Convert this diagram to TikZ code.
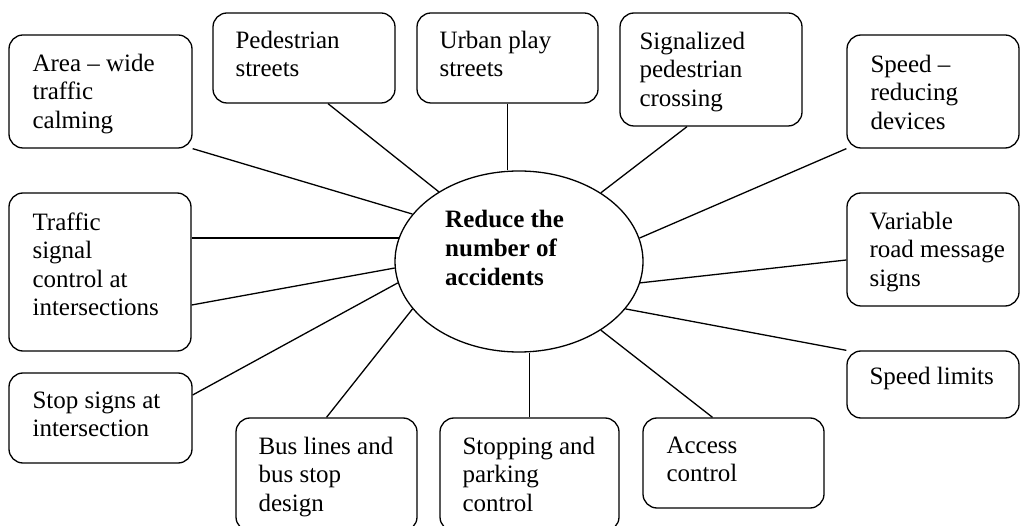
\documentclass[tikz,border=0pt]{standalone}
\usepackage{fontspec}
\setmainfont{Liberation Serif}
\usetikzlibrary{shapes.geometric}
\newcommand{\boxlines}[1]{\begin{tabular}[t]{@{}l@{}}#1\end{tabular}}
\tikzset{
  x=1pt,y=-1pt,
  box/.style={draw, line width=1.3pt, rounded corners=14pt, inner sep=0pt},
  txt/.style={font=\fontsize{25}{28.5}\selectfont, inner sep=0pt, anchor=base west},
  link/.style={line width=1.3pt},
}
\begin{document}
\begin{tikzpicture}
\useasboundingbox (0,0) rectangle (1020,526);
\clip (0,0) rectangle (1020,526);
\fill[white] (0,0) rectangle (1020,526);
% centre
\node[draw, ellipse, line width=1.3pt, minimum width=248pt, minimum height=181pt, inner sep=0pt] (c) at (519,261.5) {};
\node[txt, font=\fontsize{25}{29}\selectfont\bfseries] (ct) at (445,228) {\boxlines{Reduce the\\number of\\accidents}};
% boxes
\node[box, minimum width=183pt, minimum height=113pt] (area) at (100.5,91.5) {};
\node[box, minimum width=182pt, minimum height=90pt] (ped) at (304,58) {};
\node[box, minimum width=181pt, minimum height=90pt] (urban) at (507.5,58) {};
\node[box, minimum width=182pt, minimum height=113pt] (sig) at (711,69.5) {};
\node[box, minimum width=172pt, minimum height=113pt] (spd) at (933,91.5) {};
\node[box, minimum width=182pt, minimum height=158pt] (traf) at (100,272) {};
\node[box, minimum width=172pt, minimum height=113pt] (var) at (933,249.5) {};
\node[box, minimum width=172pt, minimum height=67pt] (lim) at (933,384.5) {};
\node[box, minimum width=183pt, minimum height=90pt] (stop) at (100.5,418) {};
\node[box, minimum width=181pt, minimum height=113pt] (bus) at (326.5,474.5) {};
\node[box, minimum width=179pt, minimum height=113pt] (park) at (529.5,474.5) {};
\node[box, minimum width=181pt, minimum height=90pt] (acc) at (733.5,463) {};
% texts
\node[txt] (areat) at ([xshift=24pt,yshift=-37pt]area.north west) {\boxlines{Area – wide\\traffic\\calming}};
\node[txt] (pedt) at ([xshift=23pt,yshift=-36pt]ped.north west) {\boxlines{Pedestrian\\streets}};
\node[txt] (urbant) at ([xshift=23pt,yshift=-36pt]urban.north west) {\boxlines{Urban play\\streets}};
\node[txt] (sigt) at ([xshift=20pt,yshift=-37pt]sig.north west) {\boxlines{Signalized\\pedestrian\\crossing}};
\node[txt] (spdt) at ([xshift=24pt,yshift=-38pt]spd.north west) {\boxlines{Speed –\\reducing\\devices}};
\node[txt] (traft) at ([xshift=24pt,yshift=-38pt]traf.north west) {\boxlines{Traffic\\signal\\control at\\intersections}};
\node[txt] (vart) at ([xshift=23pt,yshift=-37pt]var.north west) {\boxlines{Variable\\road message\\signs}};
\node[txt] (limt) at ([xshift=23pt,yshift=-34pt]lim.north west) {Speed limits};
\node[txt] (stopt) at ([xshift=24pt,yshift=-36pt]stop.north west) {\boxlines{Stop signs at\\intersection}};
\node[txt] (bust) at ([xshift=23pt,yshift=-37pt]bus.north west) {\boxlines{Bus lines and\\bus stop\\design}};
\node[txt] (parkt) at ([xshift=23pt,yshift=-37pt]park.north west) {\boxlines{Stopping and\\parking\\control}};
\node[txt] (acct) at ([xshift=24pt,yshift=-36pt]acc.north west) {\boxlines{Access\\control}};
% connectors
\draw[link] (area.south east) -- (c.156);
\draw[link] ([xshift=24pt]ped.south) -- (c.139);
\draw[link] (urban.south) -- (urban.south |- c.north);
\draw[link] ([xshift=-24pt]sig.south) -- (c.40.6);
\draw[link] (spd.south west) -- (c.11);
\draw[link] (c.169) -- (c.169 -| traf.east);
\draw[link] ([yshift=-33pt]traf.east) -- (c.183.5);
\draw[link] ([yshift=23pt]stop.east) -- (c.190);
\draw[link] (bus.north) -- (c.204.5);
\draw[link] (park.north) -- (park.north |- c.south);
\draw[link] ([xshift=-21pt]acc.north) -- (c.320);
\draw[link] (lim.north west) -- (c.336);
\draw[link] ([yshift=-10.5pt]var.west) -- (c.350);
\end{tikzpicture}
\end{document}
